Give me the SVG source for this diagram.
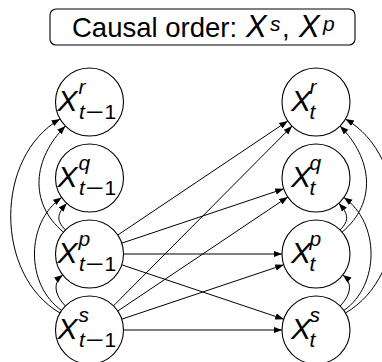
<svg xmlns="http://www.w3.org/2000/svg" width="382" height="362" viewBox="0 0 382 362">
  <defs>
    <marker id="arr" markerUnits="userSpaceOnUse" markerWidth="10" markerHeight="8" refX="8.5" refY="3.25" orient="auto">
      <path d="M0,0 L8.5,3.25 L0,6.5 Z" fill="#000"/>
    </marker>
    <style>
      .node circle { fill: #fff; stroke: #000; stroke-width: 1.1; }
      .edge { fill: none; stroke: #000; stroke-width: 1; marker-end: url(#arr); }
      .X { font-family: "Liberation Sans", Arial, sans-serif; font-style: italic; font-size: 30px; fill: #000; }
      .TX { font-family: "Liberation Sans", Arial, sans-serif; font-style: italic; font-size: 31px; fill: #000; }
      .sc { font-family: "Liberation Sans", Arial, sans-serif; font-size: 21px; fill: #000; }
      .it { font-style: italic; }
      .title { font-family: "Liberation Sans", Arial, sans-serif; font-size: 27.5px; fill: #000; }
    </style>
  </defs>

  <!-- header box -->
  <g id="causal-order">
    <rect x="50" y="9" width="305" height="36" rx="6" fill="#fff" stroke="#000" stroke-width="1.1"/>
    <text class="title" x="72" y="37">Causal order:</text>
    <text class="TX" x="246" y="37">X</text>
    <text class="sc it" x="270" y="31">s</text>
    <text class="title" x="282" y="37">,</text>
    <text class="TX" x="299" y="37">X</text>
    <text class="sc it" x="323" y="31">p</text>
  </g>

  <!-- connectors -->
  <g id="edges">
    <!-- lag t-1 to t -->
    <path class="edge" d="M117.73,235.05 L287.77,120.95"/>
    <path class="edge" d="M121.73,243.18 L283.77,188.82"/>
    <path class="edge" d="M123.5,254 L282,254"/>
    <path class="edge" d="M121.73,264.82 L283.77,319.18"/>
    <path class="edge" d="M113.46,305.88 L292.04,126.12"/>
    <path class="edge" d="M117.73,311.05 L287.77,196.95"/>
    <path class="edge" d="M121.73,319.18 L283.77,264.82"/>
    <path class="edge" d="M123.5,330 L282,330"/>
    <!-- contemporaneous, t-1 -->
    <path class="edge" d="M60.06,313 C-5.72,275.02 -5.72,156.98 60.06,119"/>
    <path class="edge" d="M61.65,310.5 C25.41,285.13 25.41,222.87 61.65,197.5"/>
    <path class="edge" d="M63.45,232.14 C28.21,202.56 32.94,158.57 65.46,126.04"/>
    <path class="edge" d="M65.46,305.96 C55.56,296.06 51.68,283.55 62.71,274.93"/>
    <path class="edge" d="M65.46,229.96 C55.56,220.06 57.38,213.67 66.75,203.27"/>
    <!-- contemporaneous, t -->
    <path class="edge" d="M345.44,313 C411.22,275.02 411.22,156.98 345.44,119"/>
    <path class="edge" d="M343.85,310.5 C380.09,285.13 380.09,222.87 343.85,197.5"/>
    <path class="edge" d="M342.05,232.14 C377.29,202.56 372.56,158.57 340.04,126.04"/>
    <path class="edge" d="M340.04,305.96 C349.94,296.06 353.82,283.55 342.79,274.93"/>
    <path class="edge" d="M340.04,229.96 C349.94,220.06 348.12,213.67 338.75,203.27"/>
  </g>

  <!-- variables at t-1 -->
  <g id="Xr_t-1" class="node">
    <circle cx="89.5" cy="102" r="34"/>
    <text class="X" x="57.5" y="111">X</text>
    <text class="sc it" x="78.5" y="94">r</text>
    <text class="sc it" x="79" y="119">t</text>
    <text class="sc" transform="translate(85.5,119) scale(1.5,1)">−</text>
    <text class="sc" x="104.5" y="119">1</text>
  </g>
  <g id="Xq_t-1" class="node">
    <circle cx="89.5" cy="178" r="34"/>
    <text class="X" x="57.5" y="187">X</text>
    <text class="sc it" x="78.5" y="170">q</text>
    <text class="sc it" x="79" y="195">t</text>
    <text class="sc" transform="translate(85.5,195) scale(1.5,1)">−</text>
    <text class="sc" x="104.5" y="195">1</text>
  </g>
  <g id="Xp_t-1" class="node">
    <circle cx="89.5" cy="254" r="34"/>
    <text class="X" x="57.5" y="263">X</text>
    <text class="sc it" x="78.5" y="246">p</text>
    <text class="sc it" x="79" y="271">t</text>
    <text class="sc" transform="translate(85.5,271) scale(1.5,1)">−</text>
    <text class="sc" x="104.5" y="271">1</text>
  </g>
  <g id="Xs_t-1" class="node">
    <circle cx="89.5" cy="330" r="34"/>
    <text class="X" x="57.5" y="339">X</text>
    <text class="sc it" x="78.5" y="322">s</text>
    <text class="sc it" x="79" y="347">t</text>
    <text class="sc" transform="translate(85.5,347) scale(1.5,1)">−</text>
    <text class="sc" x="104.5" y="347">1</text>
  </g>

  <!-- variables at t -->
  <g id="Xr_t" class="node">
    <circle cx="316" cy="102" r="34"/>
    <text class="X" x="291" y="111">X</text>
    <text class="sc it" x="309.5" y="94">r</text>
    <text class="sc it" x="309.5" y="119">t</text>
  </g>
  <g id="Xq_t" class="node">
    <circle cx="316" cy="178" r="34"/>
    <text class="X" x="291" y="187">X</text>
    <text class="sc it" x="309.5" y="170">q</text>
    <text class="sc it" x="309.5" y="195">t</text>
  </g>
  <g id="Xp_t" class="node">
    <circle cx="316" cy="254" r="34"/>
    <text class="X" x="291" y="263">X</text>
    <text class="sc it" x="309.5" y="246">p</text>
    <text class="sc it" x="309.5" y="271">t</text>
  </g>
  <g id="Xs_t" class="node">
    <circle cx="316" cy="330" r="34"/>
    <text class="X" x="291" y="339">X</text>
    <text class="sc it" x="309.5" y="322">s</text>
    <text class="sc it" x="309.5" y="347">t</text>
  </g>
</svg>
